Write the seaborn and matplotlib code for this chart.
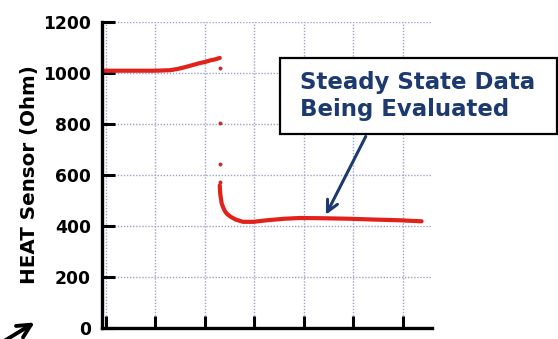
import matplotlib
matplotlib.use("Agg")
import matplotlib.pyplot as plt
from matplotlib.patches import Rectangle
import seaborn as sns

# Sensor trace before the transition (elapsed time, ohms)
pre_time = [-0.08, 0.3, 0.7, 1.0, 1.3, 1.45, 1.6, 1.75, 1.9, 2.0, 2.1, 2.2, 2.30]
pre_ohm = [1008, 1008, 1008, 1008, 1010, 1015, 1022, 1030, 1038, 1042, 1048, 1052, 1058]

# Isolated readings captured during the step change
step_time = [2.30, 2.30, 2.30, 2.30]
step_ohm = [1017, 802, 644, 572]

# Sensor trace settling to steady state
post_time = [2.30, 2.31, 2.34, 2.39, 2.44, 2.52, 2.62, 2.77, 2.98, 3.25, 3.6, 3.92, 4.4, 4.93, 5.4, 5.94, 6.38]
post_ohm = [559, 525, 487, 463, 448, 436, 425, 416, 416, 422, 428, 431, 430, 428, 425, 422, 418]

y_ticks = [0, 200, 400, 600, 800, 1000, 1200]
x_ticks = [0, 1, 2, 3, 4, 5, 6]

sns.set_theme(style="white")
plt.rcParams["font.family"] = ["DejaVu Sans"]

fig = plt.figure(figsize=(5.58, 3.39), dpi=100)
ax = fig.add_axes([0.1828, 0.0324, 0.5914, 0.9036])

red = "#e3211b"
sns.lineplot(x=pre_time, y=pre_ohm, ax=ax, color=red, lw=3, sort=False, estimator=None)
sns.lineplot(x=post_time, y=post_ohm, ax=ax, color=red, lw=3, sort=False, estimator=None)
sns.scatterplot(x=step_time, y=step_ohm, ax=ax, color="#c0302a", s=8, linewidth=0)

ax.set_xlim(-0.08, 6.59)
ax.set_ylim(0, 1200)
ax.set_yticks(y_ticks)
ax.set_xticks(x_ticks)
ax.set_xticklabels([])
ax.set_yticklabels([str(v) for v in y_ticks], fontsize=12.3, fontweight="bold", color="black")
ax.tick_params(axis="both", which="major", direction="in", length=9, width=2.2,
               color="black", pad=8, left=True, bottom=True)
ax.tick_params(axis="x", labelbottom=False)

ax.grid(True, linestyle=(0, (1, 1.2)), color="#9fa3c4", lw=1)
for side in ("top", "right"):
    ax.spines[side].set_visible(False)
for side in ("left", "bottom"):
    ax.spines[side].set_color("black")
    ax.spines[side].set_linewidth(2.4)

ax.set_ylabel("HEAT Sensor (Ohm)", fontsize=14.3, fontweight="bold", color="black")
ax.yaxis.set_label_coords(-0.19, 0.5)

# Callout box
fig.patches.append(Rectangle((0.5018, 0.6047), 0.4962, 0.2242, transform=fig.transFigure,
                             facecolor="white", edgecolor="black", lw=1.6, zorder=5))
fig.text(0.5376, 0.7168, "Steady State Data\nBeing Evaluated", fontsize=16.5,
         fontweight="bold", color="#1d3a70", ha="left", va="center", linespacing=1.2, zorder=6)
ax.annotate("", xy=(4.42, 434), xycoords="data",
            xytext=(367 / 558, 1 - 134 / 339), textcoords="figure fraction",
            arrowprops=dict(arrowstyle="->", color="#1d3a70", lw=2.2, mutation_scale=20),
            annotation_clip=False, zorder=7)

# Pointer arrow in the lower-left corner
ax.annotate("", xy=(37 / 558, 1 - 321 / 339), xycoords="figure fraction",
            xytext=(-4 / 558, 1 - 346 / 339), textcoords="figure fraction",
            arrowprops=dict(arrowstyle="->", color="black", lw=2.8, mutation_scale=24),
            annotation_clip=False)

fig.savefig("out.png", dpi=100)
